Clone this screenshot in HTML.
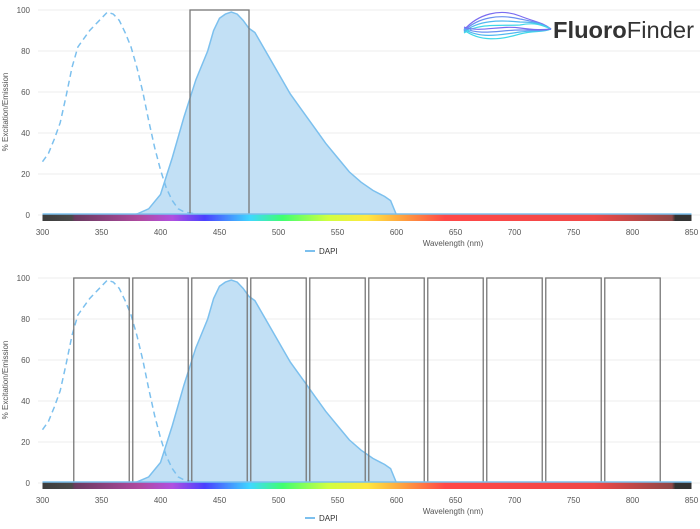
<!DOCTYPE html>
<html><head><meta charset="utf-8"><style>
body{margin:0;background:#fff;width:700px;height:529px;overflow:hidden}
svg{display:block;font-family:"Liberation Sans",sans-serif}
</style></head><body>
<svg id="s" width="700" height="529" viewBox="0 0 700 529" xmlns="http://www.w3.org/2000/svg">
<defs>
<linearGradient id="spec" x1="42.5" x2="691.5" gradientUnits="userSpaceOnUse">
<stop offset="0" stop-color="#3d3d3d"/>
<stop offset="0.045" stop-color="#4a4a4a"/>
<stop offset="0.05" stop-color="#6a3a60"/>
<stop offset="0.15" stop-color="#b04aa0"/>
<stop offset="0.2" stop-color="#b050e0"/>
<stop offset="0.25" stop-color="#4a40ff"/>
<stop offset="0.32" stop-color="#40d8ff"/>
<stop offset="0.37" stop-color="#40ff70"/>
<stop offset="0.44" stop-color="#d0ff40"/>
<stop offset="0.5" stop-color="#ffe840"/>
<stop offset="0.56" stop-color="#ff9a40"/>
<stop offset="0.62" stop-color="#ff4848"/>
<stop offset="0.85" stop-color="#f04848"/>
<stop offset="0.97" stop-color="#904848"/>
<stop offset="0.975" stop-color="#333"/>
<stop offset="1" stop-color="#333"/>
</linearGradient>
</defs>
<g id="g"></g>
<text x="553" y="38" font-size="23" fill="#333" textLength="141" lengthAdjust="spacingAndGlyphs"><tspan font-weight="bold">Fluoro</tspan>Finder</text>
</svg>
<script>
const g=document.getElementById('g');
const X=l=>42.5+(l-300)*1.18;
const em=[[375,0],[380,0.5],[390,3],[400,10],[410,28],[420,48],[430,66],[440,80],[445,90],[450,96],[455,98],[460,99],[465,98],[470,95],[475,91],[480,89],[490,79],[500,69],[510,59],[520,51],[530,43],[540,35],[550,28],[560,21],[570,16],[580,12],[590,9],[595,7],[600,0],[850,0]];
const ex=[[300,26],[305,30],[310,37],[315,45],[320,58],[325,72],[330,82],[340,90],[350,96],[355,99],[360,98],[365,95],[370,89],[375,82],[380,72],[385,60],[390,46],[395,33],[400,22],[405,13],[410,7],[415,3],[420,1.5],[430,0.5],[440,0],[850,0]];
let h='';
function chart(top,boxes,legY,xlY){
 const Y=v=>top+(100-v)*2.05;
 for(let v=0;v<=100;v+=20){
  h+=`<line x1="38" x2="700" y1="${Y(v)}" y2="${Y(v)}" stroke="#ececec" stroke-width="1"/>`;
  h+=`<text x="30" y="${Y(v)+3}" font-size="8" fill="#555" text-anchor="end">${v}</text>`;
 }
 h+=`<text transform="translate(8,${top+102}) rotate(-90)" font-size="8" fill="#555" text-anchor="middle">% Excitation/Emission</text>`;
 let p='M'+X(375)+','+Y(0);
 em.forEach(a=>p+=' L'+X(a[0]).toFixed(1)+','+Y(a[1]).toFixed(1));
 h+=`<path d="${p} Z" fill="#c2e0f5" stroke="none"/>`;
 h+=`<path d="${p}" fill="none" stroke="#7cc0ee" stroke-width="1.5"/>`;
 let q='';ex.forEach((a,i)=>q+=(i?' L':'M')+X(a[0]).toFixed(1)+','+Y(a[1]).toFixed(1));
 h+=`<path d="${q}" fill="none" stroke="#7cc0ee" stroke-width="1.5" stroke-dasharray="6,4"/>`;
 boxes.forEach(b=>h+=`<rect x="${X(b[0])}" y="${Y(100)}" width="${X(b[1])-X(b[0])}" height="${Y(0)-Y(100)}" fill="none" stroke="#777" stroke-width="1.3"/>`);
 h+=`<rect x="${X(300)}" y="${Y(0)-1}" width="${X(850)-X(300)}" height="7" fill="url(#spec)"/>`;
 h+=`<line x1="${X(300)}" x2="${X(850)}" y1="${Y(0)-1}" y2="${Y(0)-1}" stroke="#7cc0ee" stroke-width="1.5"/>`;
 for(let l=300;l<=850;l+=50)h+=`<text x="${X(l)}" y="${Y(0)+20}" font-size="8" fill="#555" text-anchor="middle">${l}</text>`;
 h+=`<text x="453" y="${xlY}" font-size="8" fill="#555" text-anchor="middle">Wavelength (nm)</text>`;
 h+=`<line x1="305" x2="315" y1="${legY}" y2="${legY}" stroke="#7cc0ee" stroke-width="2"/><text x="319" y="${legY+3}" font-size="8" fill="#333">DAPI</text>`;
}
chart(10,[[425,475]],251,246);
const bb=[];for(let l=325;l<825;l+=50)bb.push([l+1.5,l+48.5]);
chart(278,bb,518,514);
let w='';const cols=['#7a6cf0','#6a90f0','#50b8f0','#40d8e8'];
for(let i=0;i<4;i++){
w+=`<path d="M464,${30+i} C478,${14+i*3} 500,${8+i*6} 520,${16+i*3} C535,${22} 542,${22+i} 551,29" fill="none" stroke="${cols[i]}" stroke-width="1.2"/>`;
w+=`<path d="M464,${30-i} C480,${42-i*3} 500,${40-i*5} 520,${34-i*2} C535,${30} 542,${33-i} 551,29" fill="none" stroke="${cols[3-i]}" stroke-width="1.2"/>`;}
h+=w;
g.innerHTML=h;
</script>
</body></html>
